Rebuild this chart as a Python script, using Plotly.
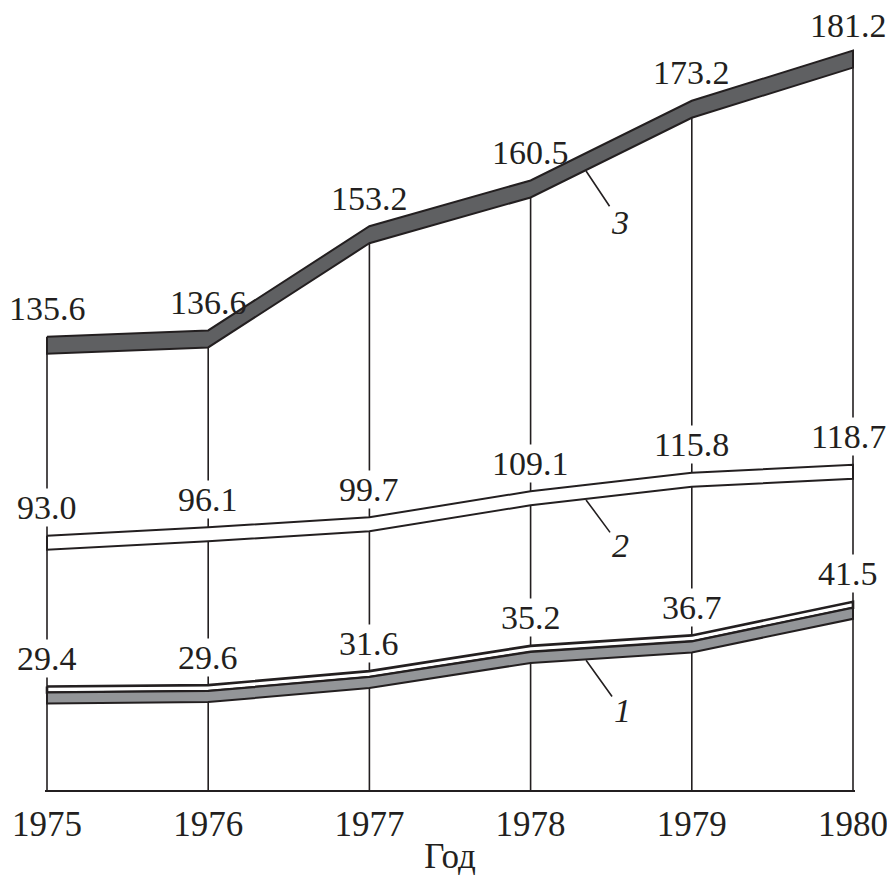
import numpy as np
import plotly.graph_objects as go

# ---------------- data ----------------
years = [1975, 1976, 1977, 1978, 1979, 1980]
tick_labels = ["1975", "1976", "1977", "1978", "1979", "1980"]
series3 = [135.6, 136.6, 153.2, 160.5, 173.2, 181.2]
series2 = [93.0, 96.1, 99.7, 109.1, 115.8, 118.7]
series1 = [29.4, 29.6, 31.6, 35.2, 36.7, 41.5]
curve_names = ["1", "2", "3"]
value_labels3 = ["135.6", "136.6", "153.2", "160.5", "173.2", "181.2"]
value_labels2 = ["93.0", "96.1", "99.7", "109.1", "115.8", "118.7"]
value_labels1 = ["29.4", "29.6", "31.6", "35.2", "36.7", "41.5"]
x_title = "Год"

# ---------------- style ----------------
INK = "#231f20"
DARK = "#5f6062"
GREY = "#939598"
FONT = "Liberation Serif"
W, H = 879, 869          # page body has an 8px margin
ML, MR, MT, MB = 37, 32, 0, 87
PLOT_H = H - MT - MB
PLOT_W = W - ML - MR
XPAD = 2 * 5 / (PLOT_W - 4)  # 2px of padding in year units

# each curve is drawn on its own (hidden) value axis
ranges = {"y": [63.35, 187.99], "y2": [1.10, 283.82], "y3": [14.60, 126.40]}


def px(axis, n):
    r = ranges[axis]
    return n * (r[1] - r[0]) / PLOT_H


def band(top, bottom, axis, fill, lw=2.0):
    xs = years + years[::-1] + [years[0]]
    ys = list(top) + list(bottom)[::-1] + [top[0]]
    return go.Scatter(x=xs, y=ys, yaxis=axis, mode="lines", fill="toself",
                      fillcolor=fill, line=dict(color=INK, width=lw),
                      hoverinfo="skip", showlegend=False)


s3 = np.array(series3)
s2 = np.array(series2)
s1 = np.array(series1)

t3 = px("y", 17)
t2 = px("y2", 14)
g1 = px("y3", 6)
t1 = px("y3", 17)

fig = go.Figure()

# vertical guide lines from base up to underside of curve 3
vx, vy = [], []
for yr, v in zip(years, s3):
    vx += [yr, yr, None]
    vy += [ranges["y"][0], v - t3, None]
fig.add_trace(go.Scatter(x=vx, y=vy, yaxis="y", mode="lines",
                         line=dict(color=INK, width=1.6),
                         hoverinfo="skip", showlegend=False))

fig.add_trace(band(s3, s3 - t3, "y", DARK))
fig.add_trace(band(s2, s2 - t2, "y2", "white"))
fig.add_trace(band(s1, s1 - g1, "y3", "white", lw=2.6))
fig.add_trace(band(s1 - g1, s1 - t1, "y3", GREY))

annotations = []
for series, labels, axis in [(s3, value_labels3, "y"),
                             (s2, value_labels2, "y2"),
                             (s1, value_labels1, "y3")]:
    for i, (yr, v, lab) in enumerate(zip(years, series, labels)):
        last = i == len(years) - 1
        ysh = 28
        if axis == "y" and last:
            ysh = 25
        annotations.append(dict(
            x=yr, y=v, xref="x", yref=axis, text=lab, showarrow=False,
            yanchor="middle", yshift=ysh, xshift=(-5 if last else 0),
            bgcolor=("rgba(0,0,0,0)" if axis == "y" else "white"),
            borderpad=0,
            font=dict(family=FONT, size=34, color=INK)))

# curve number leaders
XL = 1978.344
leaders = [("3", s3 - t3, "y", 34, 51),
           ("2", s2 - t2, "y2", 34, 46),
           ("1", s1 - t1, "y3", 36, 50)]
for name, bottom, axis, ax, ay in leaders:
    yb = float(np.interp(XL, years, bottom)) - px(axis, 1)
    annotations.append(dict(
        x=XL, y=yb, xref="x", yref=axis, text="<i>%s</i>" % name,
        showarrow=True, arrowhead=0, arrowwidth=1.6, arrowcolor=INK,
        ax=ax, ay=ay, standoff=0,
        font=dict(family=FONT, size=34, color=INK)))

axis_hidden = dict(visible=False, fixedrange=True, showgrid=False,
                   zeroline=False)

fig.update_layout(
    width=W, height=H,
    margin=dict(l=ML, r=MR, t=MT, b=MB),
    paper_bgcolor="white", plot_bgcolor="white",
    showlegend=False,
    xaxis=dict(range=[years[0] - XPAD, years[-1] + XPAD],
               tickvals=years, ticktext=tick_labels,
               ticks="outside", ticklen=2, tickcolor="rgba(0,0,0,0)",
               ticklabeloverflow="allow",
               showline=True, linecolor=INK, linewidth=2,
               showgrid=False, zeroline=False,
               tickfont=dict(family=FONT, size=35, color=INK),
               title=dict(text=x_title, standoff=0,
                          font=dict(family=FONT, size=35, color=INK))),
    yaxis=dict(range=ranges["y"], **axis_hidden),
    yaxis2=dict(range=ranges["y2"], overlaying="y", **axis_hidden),
    yaxis3=dict(range=ranges["y3"], overlaying="y", **axis_hidden),
    annotations=annotations,
)

fig.write_html("out.html")
